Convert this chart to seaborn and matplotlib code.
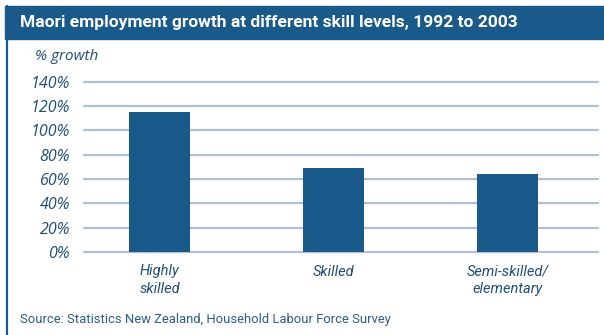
import matplotlib
matplotlib.use("Agg")
import matplotlib.pyplot as plt
import seaborn as sns
import pandas as pd
from matplotlib.patches import Rectangle
from matplotlib.lines import Line2D

sns.set_theme(style="white")

# data
categories = ["Highly\nskilled", "Skilled", "Semi-skilled/\nelementary"]
growth = [115, 69, 64]
y_ticks = [0, 20, 40, 60, 80, 100, 120, 140]

BLUE = "#1a5a8a"
GRID = "#aebfd6"
TXT = "#1f4e79"
NARROW = ["Roboto", "DejaVu Sans"]

W, H = 604, 335
fig = plt.figure(figsize=(W / 100, H / 100), dpi=100)
fig.patch.set_facecolor("white")


def fit_width(t, px):
    # shrink a text until it spans about px pixels (no condensed font installed)
    r = fig.canvas.get_renderer()
    w = t.get_window_extent(r).width
    t.set_fontsize(t.get_fontsize() * px / w)


# title bar + left border
fig.patches.append(Rectangle((5 / W, 1 - 39 / H), 1 - 5 / W, 33 / H,
                             transform=fig.transFigure, color=BLUE, zorder=0))
fig.lines.append(Line2D([6.5 / W, 6.5 / W], [0, 1 - 6 / H], transform=fig.transFigure,
                        color=BLUE, lw=1.6))
title = fig.text(20 / W, 1 - 23 / H, "Maori employment growth at different skill levels, 1992 to 2003",
                 color="white", fontsize=14, fontweight="bold", family=NARROW, va="center", ha="left")
fit_width(title, 500)

ax = fig.add_axes([84 / W, (H - 252) / H, (598 - 84) / W, (252 - 81.7) / H])
df = pd.DataFrame({"cat": categories, "val": growth})
sns.barplot(data=df, x="cat", y="val", color=BLUE, width=0.35, saturation=1, linewidth=0,
            ax=ax, zorder=3)

ax.set_xlim(-0.434, 2.52)
ax.set_ylim(0, 140)
ax.set_yticks(y_ticks)
ax.set_yticklabels([f"{v}%" for v in y_ticks], fontstyle="italic", family="Open Sans",
                   fontsize=11.5, color=TXT)
ax.set_xticks(range(len(categories)))
ax.set_xticklabels(categories, fontstyle="italic", family=NARROW, fontsize=10.5, color=TXT,
                   linespacing=1.3)
ax.tick_params(axis="y", length=0, pad=10)
ax.tick_params(axis="x", length=0, pad=9)
ax.set_xlabel("")
ax.set_ylabel("")
for s in ax.spines.values():
    s.set_visible(False)
for v in y_ticks:
    ax.axhline(v, color=GRID, lw=1.6, zorder=1, clip_on=False)

fig.text(35 / W, 1 - 57 / H, "% growth", fontstyle="italic", family="Open Sans",
         fontsize=11, color=TXT, va="center", ha="left")
src = fig.text(20 / W, 1 - 319 / H, "Source: Statistics New Zealand, Household Labour Force Survey",
               family=NARROW, fontsize=10, color="#2b5c8c", va="center", ha="left")
fit_width(src, 370)

fig.savefig("out.png", dpi=100)
